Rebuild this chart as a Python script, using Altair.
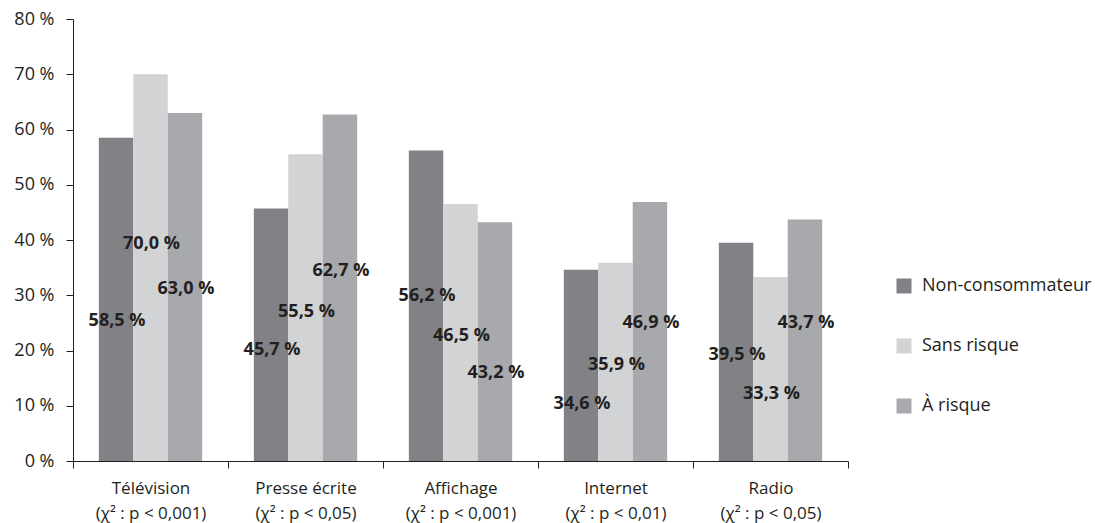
import altair as alt
import pandas as pd

# Media channels and the chi-square test result shown under each one
categories = ["Télévision", "Presse écrite", "Affichage", "Internet", "Radio"]
tests = ["(χ² : p < 0,001)", "(χ² : p < 0,05)", "(χ² : p < 0,001)",
         "(χ² : p < 0,01)", "(χ² : p < 0,05)"]

# Drinking profiles
groups = ["Non-consommateur", "Sans risque", "À risque"]
colors = ["#808285", "#d1d3d4", "#a7a9ac"]

# Share of each profile exposed to each medium (%)
non_consommateur = [58.5, 45.7, 56.2, 34.6, 39.5]
sans_risque = [70.0, 55.5, 46.5, 35.9, 33.3]
a_risque = [63.0, 62.7, 43.2, 46.9, 43.7]

# Height (%) at which each value label sits inside its bar
label_non = [25.4, 20.1, 29.9, 10.4, 19.2]
label_sans = [39.3, 27.0, 22.6, 17.4, 12.1]
label_risque = [31.1, 34.4, 15.9, 25.0, 25.0]

rows = []
for values, heights, g in [(non_consommateur, label_non, groups[0]),
                           (sans_risque, label_sans, groups[1]),
                           (a_risque, label_risque, groups[2])]:
    for cat, test, v, h in zip(categories, tests, values, heights):
        rows.append({
            "media": f"{cat}|{test}",
            "groupe": g,
            "valeur": v,
            "pos": h,
            "texte": f"{v:.1f}".replace(".", ",") + " %",
        })
df = pd.DataFrame(rows)
order = [f"{c}|{t}" for c, t in zip(categories, tests)]

FONT = "Open Sans"
INK = "#231f20"

x_axis = alt.Axis(
    labelExpr="split(datum.label, '|')", labelAngle=0,
    tickBand="extent", tickSize=7, labelPadding=12,
    labelFontSize=17, labelLineHeight=25, labelColor=INK,
    domainColor=INK, tickColor=INK, labelFont=FONT,
)
y_axis = alt.Axis(
    values=list(range(0, 90, 10)), labelExpr="datum.value + ' %'",
    grid=False, tickSize=7, labelPadding=12, labelFontSize=18,
    labelColor=INK, domainColor=INK, tickColor=INK, labelFont=FONT,
)
x_scale = alt.Scale(paddingInner=0, paddingOuter=0)
y_scale = alt.Scale(domain=[0, 80], nice=False)
xoff = alt.XOffset("groupe:N", sort=groups,
                   scale=alt.Scale(paddingInner=0, paddingOuter=0.75))

bars = alt.Chart(df).mark_bar().encode(
    x=alt.X("media:N", sort=order, title=None, scale=x_scale, axis=x_axis),
    xOffset=xoff,
    y=alt.Y("valeur:Q", title=None, scale=y_scale, axis=y_axis),
    color=alt.Color(
        "groupe:N", sort=groups,
        scale=alt.Scale(domain=groups, range=colors),
        legend=alt.Legend(
            title=None, orient="none", legendX=822, legendY=258,
            symbolType="square", symbolSize=225, symbolStrokeWidth=0,
            labelFontSize=18, labelFont=FONT, labelColor=INK,
            labelOffset=9, rowPadding=42, labelLimit=400,
        ),
    ),
)

labels = alt.Chart(df).mark_text(
    font=FONT, fontSize=18, fontWeight="bold", color=INK,
    align="center", baseline="middle", dx=1,
).encode(
    x=alt.X("media:N", sort=order, title=None, scale=x_scale, axis=x_axis),
    xOffset=xoff,
    y=alt.Y("pos:Q", title=None, scale=y_scale, axis=y_axis),
    text="texte:N",
)

chart = (
    alt.layer(bars, labels)
    .properties(
        width=775, height=442,
        autosize=alt.AutoSizeParams(type="none"),
        padding={"left": 73, "top": 19, "right": 247, "bottom": 62},
        view=alt.ViewBackground(stroke="transparent", strokeWidth=0),
    )
    .configure_view(stroke="transparent", strokeWidth=0)
    .configure_axisY(labelFontSize=18, labelFont=FONT)
    .configure_axisX(labelFontSize=17, labelFont=FONT)
    .configure(font=FONT)
)

chart.save("out.html", embed_options={"renderer": "svg", "actions": False})
